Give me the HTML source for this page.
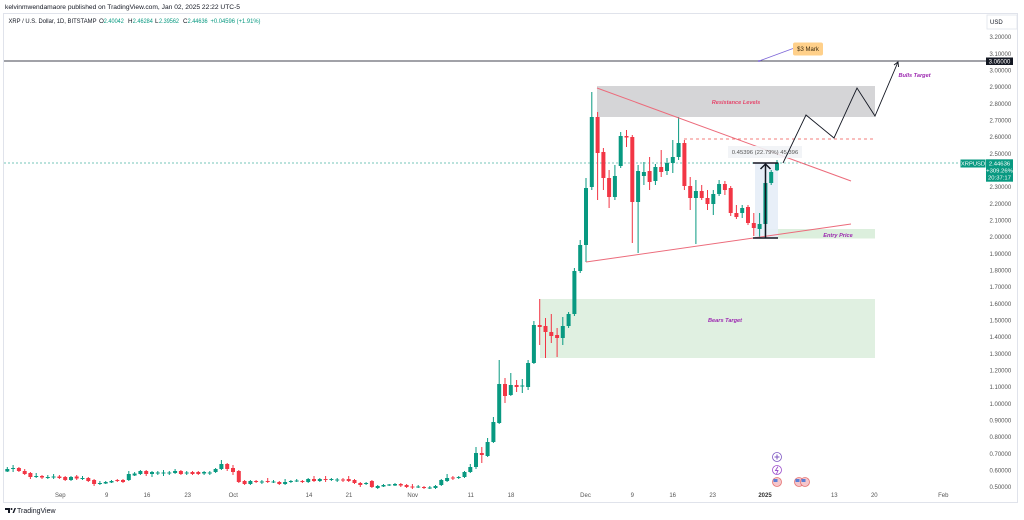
<!DOCTYPE html>
<html><head><meta charset="utf-8"><style>
html,body{margin:0;padding:0;background:#fff;}
svg{display:block;font-family:"Liberation Sans",sans-serif;}
</style></head><body>
<svg width="1024" height="520" viewBox="0 0 1024 520" xmlns="http://www.w3.org/2000/svg">
<defs><clipPath id="pc"><rect x="980" y="30" width="44" height="459"/></clipPath></defs>
<rect width="1024" height="520" fill="#fff"/>
<!-- frame -->
<rect x="3.5" y="13.5" width="1014" height="489" fill="none" stroke="#e0e3eb" stroke-width="1"/>
<!-- header -->
<text x="5" y="9" font-size="6.5" fill="#131722" textLength="235" lengthAdjust="spacingAndGlyphs">kelvinmwendamaore published on TradingView.com, Jan 02, 2025 22:22 UTC-5</text>
<text x="8.5" y="23" font-size="6.3" fill="#131722" textLength="88" lengthAdjust="spacingAndGlyphs">XRP / U.S. Dollar, 1D, BITSTAMP</text>
<g font-size="6.3">
<text x="99" y="23" fill="#131722">O</text><text x="103.8" y="23" fill="#089981" textLength="20" lengthAdjust="spacingAndGlyphs">2.40042</text>
<text x="128" y="23" fill="#131722">H</text><text x="132.8" y="23" fill="#089981" textLength="20" lengthAdjust="spacingAndGlyphs">2.46284</text>
<text x="155" y="23" fill="#131722">L</text><text x="159" y="23" fill="#089981" textLength="20" lengthAdjust="spacingAndGlyphs">2.39562</text>
<text x="183" y="23" fill="#131722">C</text><text x="187.6" y="23" fill="#089981" textLength="20" lengthAdjust="spacingAndGlyphs">2.44636</text>
<text x="210.5" y="23" fill="#089981" textLength="50" lengthAdjust="spacingAndGlyphs">+0.04596 (+1.91%)</text>
</g>

<!-- zones -->
<rect x="597" y="86" width="278" height="31" fill="#d5d5d7"/>
<rect x="540" y="299" width="335" height="59" fill="#e0f0e1"/>
<rect x="763" y="229" width="112" height="9.5" fill="#dcefdd"/>
<rect x="755" y="163" width="23" height="75" fill="#e6edf7" opacity="0.9"/>

<!-- current price dashed -->
<line x1="4" y1="163" x2="960" y2="163" stroke="#089981" stroke-width="0.8" stroke-dasharray="2 2" opacity="0.75"/>
<!-- 3.06 line -->
<line x1="4" y1="61" x2="987" y2="61" stroke="#434651" stroke-width="1"/>

<!-- candles green -->
<path fill="none" stroke="#089981" stroke-width="1" d="M7.3 467V472M13.1 465V472M36.2 473V478M47.8 475V479M53.6 474V479M71 476V481M82.5 476V480M99.9 481V485M105.7 481V484M111.5 480V483M128.8 471V481M134.6 472V476M140.4 470V475M152 471V477M157.8 471V475M163.5 470V476M169.3 471V475M175.1 469V474M186.7 471V475M204.1 471V475M209.8 471V475M215.6 468V473M221.4 460V470M250.4 480V485M261.9 480V484M273.5 480V483M285.1 479V485M290.9 480V483M296.7 479V482M308.2 478V483M319.8 478V482M331.4 478V481M337.2 478V482M366.1 482V485M377.7 485V489M383.5 484V487M389.2 484V486M395 483V486M418.2 485V488M429.8 486V489M435.5 485V489M441.3 479V486M447.1 474V482M458.7 476V479M464.5 471V478M470.3 464V473M476 447V469M487.6 438V457M493.4 417V443M499.2 360V424M510.8 373V396M522.3 379V393M528.1 360V390M533.9 321V364M562.8 317V345M568.6 312V328M574.4 268V316M580.2 240V273M586 178V262M591.8 92V190M614.9 165V200M620.7 132V168M638.1 165V253M643.9 162V185M655.4 164V185M667 158V175M672.8 140V173M678.6 117V160M695.9 180V244M713.3 190V215M719.1 180V196M742.2 205V218M759.6 213V237M765.4 180V236M771.2 170V185M777 160V171"/>
<path fill="#089981" d="M5.3 469h4v2.5h-4zM11.1 468h4v1h-4zM34.2 476h4v1h-4zM45.8 477h4v1h-4zM51.6 476.5h4v1h-4zM69 477h4v3h-4zM80.5 478h4v1h-4zM97.9 483h4v1h-4zM103.7 482h4v1.5h-4zM109.5 481h4v1.5h-4zM126.8 474h4v6h-4zM132.6 473.5h4v2h-4zM138.4 471h4v3h-4zM150 472h4v2h-4zM155.8 472.5h4v1h-4zM161.5 472.5h4v1h-4zM167.3 472.5h4v1h-4zM173.1 471h4v2h-4zM184.7 472.5h4v1h-4zM202.1 472h4v1.5h-4zM207.8 472.5h4v1h-4zM213.6 469h4v3h-4zM219.4 464h4v5h-4zM248.4 481h4v3h-4zM259.9 481.5h4v1h-4zM271.5 481.5h4v1h-4zM283.1 482h4v2h-4zM288.9 481h4v1h-4zM294.7 480.5h4v1h-4zM306.2 479h4v3h-4zM317.8 479h4v2h-4zM329.4 479h4v1h-4zM335.2 479.5h4v1h-4zM364.1 483h4v1h-4zM375.7 486h4v2h-4zM381.5 485h4v1.5h-4zM387.2 484.5h4v1h-4zM393 484h4v1.5h-4zM416.2 486.5h4v1h-4zM427.8 487.5h4v1h-4zM433.5 486h4v2h-4zM439.3 480h4v5h-4zM445.1 478h4v3h-4zM456.7 477h4v1h-4zM462.5 472h4v5h-4zM468.3 467h4v5h-4zM474 453h4v14h-4zM485.6 442h4v14h-4zM491.4 422h4v20h-4zM497.2 384h4v39h-4zM508.8 385h4v10h-4zM520.3 385.5h4v1h-4zM526.1 363h4v24h-4zM531.9 325h4v38h-4zM560.8 326h4v12h-4zM566.6 314h4v12h-4zM572.4 271h4v43h-4zM578.2 245h4v26h-4zM584 188h4v57h-4zM589.8 117h4v70h-4zM612.9 176h4v21h-4zM618.7 136h4v30h-4zM636.1 171h4v31h-4zM641.9 172h4v4h-4zM653.4 167h4v14h-4zM665 163h4v8h-4zM670.8 157h4v6h-4zM676.6 143h4v14h-4zM693.9 191h4v7h-4zM711.3 194h4v10h-4zM717.1 184h4v10h-4zM740.2 208h4v5h-4zM757.6 224h4v5h-4zM763.4 183h4v41h-4zM769.2 172h4v11h-4zM775 162.6h4v7.7h-4z"/>
<!-- candles red -->
<path fill="none" stroke="#f23645" stroke-width="1" d="M18.9 467V472M24.7 469V475M30.4 472V479M42 475V479M59.4 475V479M65.2 476V481M76.7 475V480M88.3 477V482M94.1 479V486M117.3 479V482M123 479V483M146.2 470V476M180.9 470V475M192.5 471V475M198.3 471V475M227.2 463V471M233 465V475M238.8 470V483M244.6 480V485M256.1 480V483M267.7 478V483M279.3 481V485M302.4 480V483M314 476V482M325.6 476V482M343 478V482M348.7 476V482M354.5 479V484M360.3 482V487M371.9 480V488M400.8 483V487M406.6 484V488M412.4 484V489M424 486V489M452.9 476V480M481.8 447V463M505 378V403M516.6 380V392M539.7 299V345M545.5 318V358M551.3 314V343M557.1 328V357M597.6 112V200M603.4 148V190M609.1 170V208M626.5 130V147M632.3 135V243M649.6 157V190M661.2 150V177M684.4 140V190M690.2 177V210M701.7 185V200M707.5 190V210M724.9 181V195M730.7 186V216M736.4 205V219M748 205V225M753.8 213V236"/>
<path fill="#f23645" d="M16.9 468h4v3h-4zM22.7 471h4v3h-4zM28.4 473h4v4h-4zM40 476h4v1.5h-4zM57.4 476.5h4v1.5h-4zM63.2 477h4v3h-4zM74.7 476.5h4v2h-4zM86.3 478h4v3h-4zM92.1 480h4v4h-4zM115.3 480h4v1h-4zM121 480h4v2h-4zM144.2 471h4v3h-4zM178.9 471h4v3h-4zM190.5 472h4v2h-4zM196.3 472h4v2h-4zM225.2 464h4v5h-4zM231 468h4v4h-4zM236.8 471h4v11h-4zM242.6 481h4v3h-4zM254.1 481h4v1h-4zM265.7 481h4v1h-4zM277.3 482h4v2h-4zM300.4 481h4v1h-4zM312 479h4v2h-4zM323.6 479h4v1h-4zM341 479.5h4v1h-4zM346.7 479h4v2h-4zM352.5 480h4v3h-4zM358.3 483h4v2h-4zM369.9 481h4v6h-4zM398.8 484h4v1.5h-4zM404.6 485h4v2h-4zM410.4 486.5h4v1h-4zM422 487h4v1h-4zM450.9 477.5h4v1h-4zM479.8 453h4v2h-4zM503 384h4v12h-4zM514.6 385h4v2h-4zM537.7 325h4v2h-4zM543.5 326h4v6h-4zM549.3 332h4v4h-4zM555.1 335h4v3h-4zM595.6 117h4v36h-4zM601.4 152h4v26h-4zM607.1 178h4v19h-4zM624.5 136h4v1.5h-4zM630.3 137h4v65h-4zM647.6 171h4v11h-4zM659.2 167h4v5h-4zM682.4 143h4v43h-4zM688.2 186h4v12h-4zM699.7 191h4v7h-4zM705.5 198h4v6h-4zM722.9 184h4v6h-4zM728.7 188h4v25h-4zM734.4 213h4v4h-4zM746 207h4v16h-4zM751.8 223h4v5h-4z"/>

<!-- triangle lines -->
<line x1="597" y1="88" x2="851" y2="181" stroke="#ec6b7b" stroke-width="1"/>
<line x1="586" y1="262" x2="851" y2="224" stroke="#ec6b7b" stroke-width="1"/>
<line x1="684" y1="139" x2="875" y2="139" stroke="#ef5350" stroke-width="0.8" stroke-dasharray="3 3"/>

<!-- measure tool -->
<g stroke="#131722" stroke-width="1.5" fill="none">
<line x1="753" y1="163" x2="778" y2="163"/>
<line x1="753" y1="238" x2="778" y2="238"/>
<line x1="765.5" y1="238" x2="765.5" y2="164"/>
<polyline points="760.5,169 765.5,164 770.5,169"/>
</g>
<rect x="728" y="146" width="74" height="12" fill="#f1f3f6" opacity="0.9"/>
<text x="765" y="154" font-size="5.9" fill="#555" text-anchor="middle">0.45396 (22.79%) 45,396</text>

<!-- projection zigzag -->
<polyline points="783,163 806,115 834,138 857,88 875,116 898,62" fill="none" stroke="#131722" stroke-width="0.9"/>
<polyline points="894,65 898,62 898.6,67" fill="none" stroke="#131722" stroke-width="0.9"/>

<!-- $3 mark callout -->
<line x1="759" y1="61" x2="793" y2="48.5" stroke="#7e67d8" stroke-width="0.8"/>
<circle cx="759" cy="61" r="1" fill="#7e67d8"/>
<rect x="793" y="42.5" width="30" height="13" rx="2" fill="#ffd08a"/>
<text x="808" y="51.2" font-size="6" fill="#3a2a10" text-anchor="middle">$3 Mark</text>

<!-- zone labels -->
<text x="736" y="104" font-size="5.6" font-weight="bold" font-style="italic" fill="#e5466b" text-anchor="middle">Resistance Levels</text>
<text x="725" y="322" font-size="5.6" font-weight="bold" font-style="italic" fill="#9c27b0" text-anchor="middle">Bears Target</text>
<text x="838" y="237" font-size="5.6" font-weight="bold" font-style="italic" fill="#9c27b0" text-anchor="middle">Entry Price</text>
<text x="914.5" y="77" font-size="5.6" font-weight="bold" font-style="italic" fill="#9c27b0" text-anchor="middle">Bulls Target</text>

<!-- event icons -->
<g stroke-width="0.8">
<circle cx="777" cy="457" r="4.5" fill="#fff" stroke="#7e57c2"/>
<path d="M774.5 457h5M777 454.5v5" stroke="#7e57c2" stroke-width="1"/>
<circle cx="777" cy="470" r="4.5" fill="#fff" stroke="#9c4dcc"/>
<path d="M778 466.5l-2.5 4h2.5l-1.5 3.5" stroke="#9c4dcc" fill="none" stroke-width="0.9"/>
<circle cx="777" cy="482" r="4.5" fill="#f6c6cb" stroke="#e57373"/>
<rect x="773.5" y="479" width="4" height="3" fill="#5b7fd6"/>
<circle cx="799" cy="482" r="4.5" fill="#f6c6cb" stroke="#e57373"/>
<circle cx="805" cy="482" r="4.5" fill="#f6c6cb" stroke="#e57373"/>
<rect x="801.5" y="479" width="4" height="3" fill="#5b7fd6"/>
<rect x="795.5" y="479" width="4" height="3" fill="#5b7fd6"/>
</g>

<!-- price axis -->
<rect x="987" y="15" width="30" height="14" fill="#fff" stroke="#e0e3eb" stroke-width="0.8"/>
<text x="990" y="24" font-size="6" fill="#131722">USD</text>
<g font-size="6" fill="#555" clip-path="url(#pc)">
<text x="989.5" y="39.1">3.20000</text>
<text x="989.5" y="55.8">3.10000</text>
<text x="989.5" y="72.4">3.00000</text>
<text x="989.5" y="89.1">2.90000</text>
<text x="989.5" y="105.8">2.80000</text>
<text x="989.5" y="122.4">2.70000</text>
<text x="989.5" y="139.1">2.60000</text>
<text x="989.5" y="155.8">2.50000</text>
<text x="989.5" y="189.1">2.30000</text>
<text x="989.5" y="205.8">2.20000</text>
<text x="989.5" y="222.4">2.10000</text>
<text x="989.5" y="239.1">2.00000</text>
<text x="989.5" y="255.8">1.90000</text>
<text x="989.5" y="272.4">1.80000</text>
<text x="989.5" y="289.1">1.70000</text>
<text x="989.5" y="305.8">1.60000</text>
<text x="989.5" y="322.4">1.50000</text>
<text x="989.5" y="339.1">1.40000</text>
<text x="989.5" y="355.8">1.30000</text>
<text x="989.5" y="372.4">1.20000</text>
<text x="989.5" y="389.1">1.10000</text>
<text x="989.5" y="405.8">1.00000</text>
<text x="989.5" y="422.4">0.90000</text>
<text x="989.5" y="439.1">0.80000</text>
<text x="989.5" y="455.8">0.70000</text>
<text x="989.5" y="472.4">0.60000</text>
<text x="989.5" y="489.1">0.50000</text>
</g>
<rect x="986" y="57.5" width="27" height="7.5" fill="#131722"/>
<text x="999.5" y="63.3" font-size="6" fill="#fff" text-anchor="middle">3.06000</text>
<rect x="960.5" y="159.5" width="25" height="8" fill="#089981"/>
<text x="973" y="165.6" font-size="5.8" fill="#fff" text-anchor="middle">XRPUSD</text>
<rect x="986" y="159.3" width="27" height="22.4" fill="#089981"/>
<g font-size="5.9" fill="#fff" text-anchor="middle">
<text x="999.5" y="165.6">2.44636</text>
<text x="999.5" y="172.6">+309.26%</text>
<text x="999.5" y="179.6">20:37:17</text>
</g>

<!-- time axis -->
<g font-size="6" fill="#555" text-anchor="middle">
<text x="60.3" y="497">Sep</text>
<text x="106.7" y="497">9</text>
<text x="147" y="497">16</text>
<text x="187.7" y="497">23</text>
<text x="233.3" y="497">Oct</text>
<text x="309" y="497">14</text>
<text x="349" y="497">21</text>
<text x="412.7" y="497">Nov</text>
<text x="470.7" y="497">11</text>
<text x="511" y="497">18</text>
<text x="585.5" y="497">Dec</text>
<text x="632.3" y="497">9</text>
<text x="672.7" y="497">16</text>
<text x="712.7" y="497">23</text>
<text x="765" y="497" font-weight="bold" fill="#333">2025</text>
<text x="834.3" y="497">13</text>
<text x="874.3" y="497">20</text>
<text x="943.3" y="497">Feb</text>
</g>

<!-- TradingView logo -->
<g fill="#131722">
<path d="M5 508h5v5h-2v-3h-3z"/>
<circle cx="11.5" cy="509" r="1"/>
<path d="M12.5 513l2-5h1.5l-2 5z"/>
</g>
<text x="17" y="513" font-size="7" fill="#131722">TradingView</text>
</svg>
</body></html>
